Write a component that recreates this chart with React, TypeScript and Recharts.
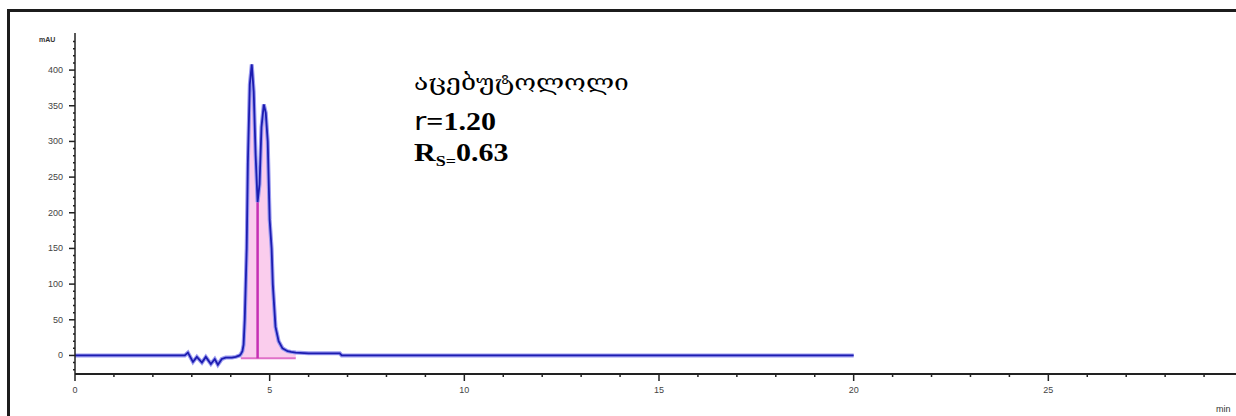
import { ComposedChart, Line, Area, XAxis, YAxis, ReferenceLine } from "recharts";

// retention time (min) and detector signal (mAU)
const times = [
  0, 2.82, 2.9, 3.03, 3.13, 3.26, 3.36, 3.49, 3.59, 3.67, 3.77, 3.87, 4.03, 4.13, 4.23,
  4.26, 4.3, 4.33, 4.36, 4.41, 4.44, 4.49, 4.54, 4.59, 4.64, 4.69, 4.74, 4.79, 4.85, 4.9,
  4.95, 5.0, 5.05, 5.08, 5.15, 5.23, 5.33, 5.46, 5.55, 5.67, 6.0, 6.8, 6.85, 20,
];
const signal = [
  0, 0, 4, -9, -2, -10, -2, -12, -5, -13, -5, -3, -3, -2, 0,
  2, 6, 15, 50, 150, 270, 380, 408, 370, 280, 215, 240, 320, 352, 340,
  300, 190, 150, 100, 40, 20, 10, 6, 5, 4, 3, 3, 0, 0,
];

const peakStart = 4.26;
const peakEnd = 5.67;
const integrationBase = -4;
const valleyTime = 4.69;
const valleyValue = 215;

const xTicks = [
  0, 1, 2, 3, 4, 5, 6, 7, 8, 9, 10, 11, 12, 13, 14, 15, 16, 17, 18, 19, 20,
  21, 22, 23, 24, 25, 26, 27, 28, 29,
];
const yTicks = [
  -20, -10, 0, 10, 20, 30, 40, 50, 60, 70, 80, 90, 100, 110, 120, 130, 140, 150,
  160, 170, 180, 190, 200, 210, 220, 230, 240, 250, 260, 270, 280, 290, 300, 310,
  320, 330, 340, 350, 360, 370, 380, 390, 400, 410, 420, 430, 440,
];

const data = times.map((t, i) => {
  const inPeak = t >= peakStart && t <= peakEnd;
  return {
    t,
    v: signal[i],
    peak: inPeak ? signal[i] : null,
    base: inPeak ? integrationBase : null,
  };
});

function XTick({ x, y, payload }: any) {
  const major = payload.value % 5 === 0;
  return (
    <g>
      <line x1={x} x2={x} y1={y} y2={y + (major ? 7 : 3)} stroke="#222" strokeWidth={1.5} />
      {major && (
        <text x={x} y={y + 19} textAnchor="middle" fontSize={9} fill="#444" fontFamily="Liberation Sans, Arial">
          {payload.value}
        </text>
      )}
    </g>
  );
}

function YTick({ x, y, payload }: any) {
  const major = payload.value % 50 === 0;
  return (
    <g>
      <line x1={x - (major ? 6 : 2)} x2={x} y1={y} y2={y} stroke="#222" strokeWidth={1.5} />
      {major && (
        <text x={x - 12} y={y + 3} textAnchor="end" fontSize={9} fill="#444" fontFamily="Liberation Sans, Arial">
          {payload.value}
        </text>
      )}
    </g>
  );
}

const note = {
  position: "absolute" as const,
  left: 414,
  color: "#000",
  whiteSpace: "nowrap" as const,
  transform: "scaleX(1.2)",
  transformOrigin: "0 0",
  lineHeight: 1,
};

export default function App() {
  return (
    <div
      style={{
        position: "absolute",
        left: 0,
        top: 0,
        width: 1236,
        height: 416,
        overflow: "hidden",
        background: "#fff",
      }}
    >
      <div
        style={{
          position: "absolute",
          left: 7,
          top: 9,
          width: 1300,
          height: 450,
          border: "3px solid #1c1c1c",
          boxSizing: "border-box",
        }}
      />
      <div style={{ position: "absolute", left: 0, top: 0 }}>
        <ComposedChart
          width={1243}
          height={416}
          data={data}
          margin={{ top: 33, right: 0, bottom: 21, left: 0 }}
        >
          <XAxis
            type="number"
            dataKey="t"
            domain={[0, 30]}
            ticks={xTicks}
            interval={0}
            tick={<XTick />}
            tickLine={false}
            tickSize={0}
            tickMargin={0}
            height={21}
            axisLine={{ stroke: "#222", strokeWidth: 2 }}
          />
          <YAxis
            type="number"
            domain={[-26, 452]}
            ticks={yTicks}
            interval={0}
            tick={<YTick />}
            tickLine={false}
            tickSize={0}
            tickMargin={0}
            width={75}
            axisLine={{ stroke: "#222", strokeWidth: 1.5 }}
            allowDataOverflow
          />
          <Area
            dataKey="peak"
            type="linear"
            baseValue={integrationBase}
            fill="#f9c4ea"
            fillOpacity={0.85}
            stroke="none"
            isAnimationActive={false}
            connectNulls={false}
          />
          <Line
            dataKey="base"
            type="linear"
            stroke="#e070c8"
            strokeWidth={2}
            dot={false}
            isAnimationActive={false}
          />
          <ReferenceLine
            segment={[
              { x: valleyTime, y: integrationBase },
              { x: valleyTime, y: valleyValue },
            ]}
            stroke="#c630b4"
            strokeWidth={2.5}
          />
          <Line
            dataKey="v"
            type="linear"
            stroke="#9a9af0"
            strokeWidth={4}
            dot={false}
            isAnimationActive={false}
          />
          <Line
            dataKey="v"
            type="linear"
            stroke="#1c1cb0"
            strokeWidth={1.8}
            dot={false}
            isAnimationActive={false}
          />
        </ComposedChart>
      </div>
      <div
        style={{
          position: "absolute",
          left: 39,
          top: 36,
          fontSize: 7,
          fontWeight: "bold",
          color: "#333",
          fontFamily: "Liberation Sans, Arial",
        }}
      >
        mAU
      </div>
      <div
        style={{
          position: "absolute",
          left: 1216,
          top: 404,
          fontSize: 9,
          color: "#333",
          fontFamily: "Liberation Sans, Arial",
        }}
      >
        min
      </div>
      <div style={{ ...note, top: 72, fontFamily: "DejaVu Serif, DejaVu Sans", fontSize: 22 }}>
        აცებუტოლოლი
      </div>
      <div style={{ ...note, top: 109, fontFamily: "Liberation Serif, Times New Roman", fontSize: 25, fontWeight: "bold" }}>
        <span style={{ fontWeight: "normal", fontFamily: "DejaVu Sans" }}>r</span>=1.20
      </div>
      <div style={{ ...note, top: 140, fontFamily: "Liberation Serif, Times New Roman", fontSize: 25, fontWeight: "bold" }}>
        R<span style={{ fontSize: 15, position: "relative", top: 5 }}>S=</span>0.63
      </div>
    </div>
  );
}
